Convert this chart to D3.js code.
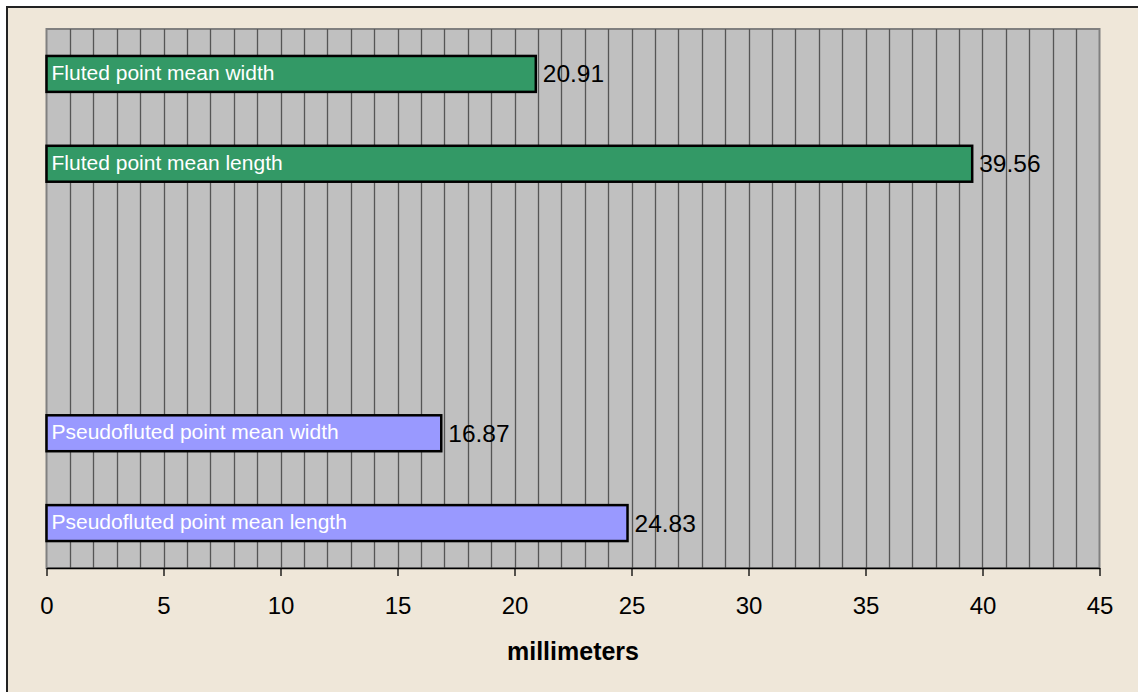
<!DOCTYPE html>
<html>
<head>
<meta charset="utf-8">
<script src="https://cdn.jsdelivr.net/npm/d3@7"></script>
<style>
  html, body { margin: 0; padding: 0; background: #fff; }
  svg { display: block; font-family: "Liberation Sans", Arial, sans-serif; }
</style>
</head>
<body>
<div id="chart"></div>
<script>
const width = 1138;
const height = 692;

// slots from top to bottom; two empty rows separate the groups
const slots = ["fw", "fl", "gap1", "gap2", "pw", "pl"];
const labels = ["Fluted point mean width", "Fluted point mean length", "", "",
                "Pseudofluted point mean width", "Pseudofluted point mean length"];
const values = [20.91, 39.56, null, null, 16.87, 24.83];
const groups = ["fluted", "fluted", "", "", "pseudo", "pseudo"];
const xTicks = [0, 5, 10, 15, 20, 25, 30, 35, 40, 45];

const margin = {left: 46.5, right: 1099.5, top: 29, bottom: 568};

const svg = d3.select("#chart")
    .append("svg")
    .attr("width", width)
    .attr("height", height);

// chart frame (runs past the right and bottom edges)
svg.append("rect")
    .attr("x", 7).attr("y", 7)
    .attr("width", width + 20).attr("height", height + 20)
    .attr("fill", "#efe7d9")
    .attr("stroke", "#222")
    .attr("stroke-width", 2);

const x = d3.scaleLinear()
    .domain([0, 45])
    .range([margin.left, margin.right]);

const y = d3.scaleBand()
    .domain(slots)
    .range([margin.top, margin.bottom])
    .paddingInner(0.6)
    .paddingOuter(0.3);

const color = d3.scaleOrdinal()
    .domain(["fluted", "pseudo"])
    .range(["#339966", "#9999ff"]);

// plot area
svg.append("rect")
    .attr("x", margin.left).attr("y", margin.top)
    .attr("width", margin.right - margin.left)
    .attr("height", margin.bottom - margin.top)
    .attr("fill", "#c0c0c0")
    .attr("stroke", "#808080")
    .attr("stroke-width", 2);

// vertical gridlines every 1 mm
svg.append("g")
    .selectAll("line")
    .data(d3.range(1, 45))
    .join("line")
    .attr("x1", d => Math.round(x(d)) + 0.5)
    .attr("x2", d => Math.round(x(d)) + 0.5)
    .attr("y1", margin.top)
    .attr("y2", margin.bottom)
    .attr("stroke", "#555")
    .attr("stroke-width", 1.3);

const rows = slots.map((s, i) => ({slot: s, label: labels[i], value: values[i], group: groups[i]}))
    .filter(d => d.value !== null);

const bars = svg.append("g")
    .selectAll("g")
    .data(rows)
    .join("g");

bars.append("rect")
    .attr("x", x(0))
    .attr("y", d => y(d.slot))
    .attr("width", d => x(d.value) - x(0))
    .attr("height", y.bandwidth())
    .attr("fill", d => color(d.group))
    .attr("stroke", "#000")
    .attr("stroke-width", 2.5);

bars.append("text")
    .attr("x", x(0) + 5)
    .attr("y", d => y(d.slot) + y.bandwidth() / 2 + 6)
    .attr("fill", "#fff")
    .attr("font-size", 21)
    .text(d => d.label);

bars.append("text")
    .attr("x", d => x(d.value) + 7)
    .attr("y", d => y(d.slot) + y.bandwidth() / 2 + 8.5)
    .attr("fill", "#000")
    .attr("font-size", 24.5)
    .text(d => d.value.toFixed(2));

// x axis
const axis = svg.append("g")
    .attr("transform", `translate(0,${margin.bottom})`)
    .call(d3.axisBottom(x).tickValues(xTicks).tickSize(8).tickPadding(21).tickSizeOuter(0));

axis.select(".domain").attr("stroke", "#000").attr("stroke-width", 1.3);
axis.selectAll(".tick line").attr("stroke", "#000").attr("stroke-width", 1.3);
axis.selectAll(".tick text")
    .attr("font-size", 24)
    .attr("font-family", "Liberation Sans, Arial, sans-serif")
    .attr("fill", "#000");

svg.append("text")
    .attr("x", (margin.left + margin.right) / 2)
    .attr("y", 660)
    .attr("text-anchor", "middle")
    .attr("font-size", 25)
    .attr("font-weight", "bold")
    .text("millimeters");
</script>
</body>
</html>
